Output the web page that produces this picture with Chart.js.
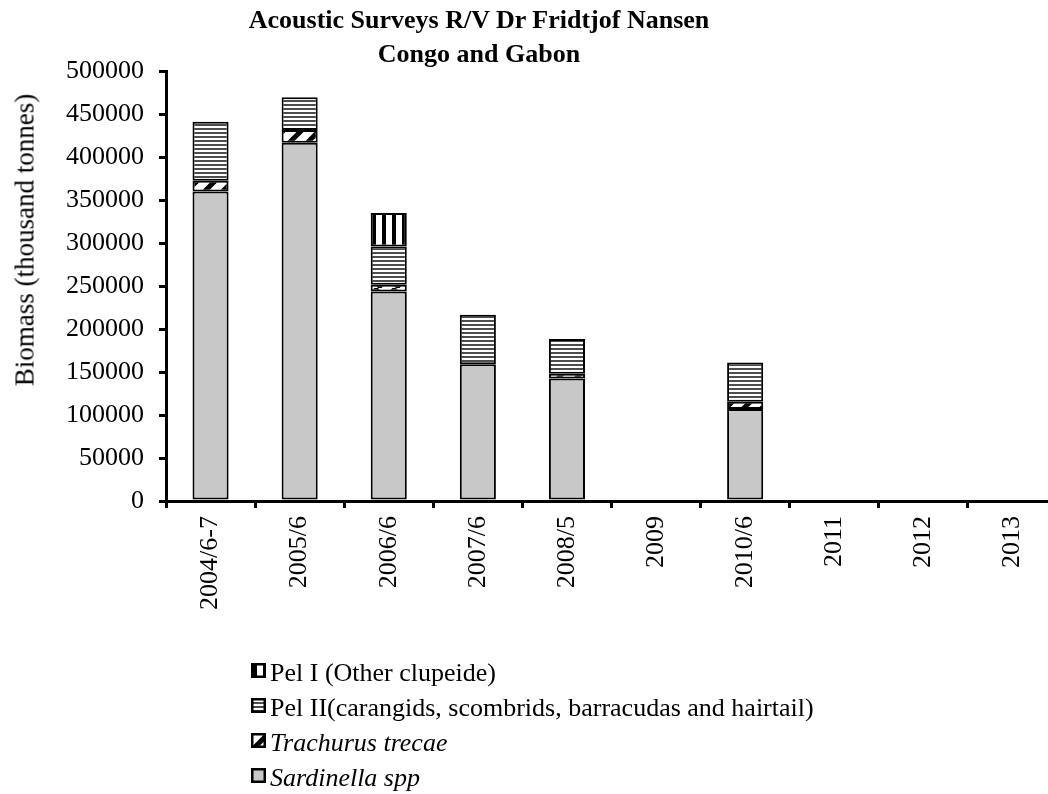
<!DOCTYPE html>
<html>
<head>
<meta charset="utf-8">
<script src="https://cdn.jsdelivr.net/npm/chart.js@4.4.0/dist/chart.umd.min.js"></script>
<style>
html, body { margin: 0; padding: 0; background: #fff; overflow: hidden; }
#wrap { position: relative; width: 1048px; height: 794px; overflow: hidden;
        font-family: 'Liberation Serif', 'Times New Roman', serif; color: #000; }
#chart { position: absolute; left: 0; top: 0; }
#title { position: absolute; left: 0; top: 3px; width: 958px; text-align: center;
         font-weight: bold; font-size: 26px; line-height: 33.5px; }
#ytitle { position: absolute; left: 25px; top: 240px; white-space: nowrap; font-size: 27px;
          transform: translate(-50%, -50%) rotate(-90deg); }
#legend { position: absolute; left: 251px; top: 655px; font-size: 26px; }
#legend .row { position: relative; height: 35px; line-height: 35px; white-space: nowrap; }
#legend canvas { position: absolute; left: 0; top: 8px; }
#legend span { position: absolute; left: 19px; top: 0; }
</style>
</head>
<body>
<div id="wrap">
  <canvas id="chart" width="1057" height="794"></canvas>
  <div id="title">Acoustic Surveys R/V Dr Fridtjof Nansen<br>Congo and Gabon</div>
  <div id="ytitle">Biomass (thousand tonnes)</div>
  <div id="legend"></div>
</div>
<script>
// Valeurs (milliers de tonnes)
const categories = ['2004/6-7', '2005/6', '2006/6', '2007/6', '2008/5', '2009', '2010/6', '2011', '2012', '2013'];
const sardinella = [360000, 416500, 243500, 159000, 142500, null, 107000, null, null, null];
const trachurus  = [12500, 15000, 8000, null, 5500, null, 8500, null, null, null];
const pelII      = [68500, 38000, 44500, 57500, 40500, null, 45500, null, null, null];
const pelI       = [null, null, 38800, null, null, null, null, null, null, null];
const yMax = 500000;
const yStep = 50000;

const FONT = "'Liberation Serif', 'Times New Roman', serif";

// Motifs de remplissage (hachures)
function makePattern(kind) {
    const c = document.createElement('canvas');
    const g = c.getContext('2d');
    if (kind === 'vbars') {
        c.width = 10; c.height = 10;
        g.fillStyle = '#fff'; g.fillRect(0, 0, 10, 10);
        g.fillStyle = '#000'; g.fillRect(2, 0, 4, 10);
    } else if (kind === 'hlines') {
        c.width = 4; c.height = 4;
        g.fillStyle = '#fff'; g.fillRect(0, 0, 4, 4);
        g.fillStyle = '#4d4d4d'; g.fillRect(0, 0, 4, 2);
    } else if (kind === 'diag') {
        c.width = 18; c.height = 18;
        g.fillStyle = '#fff'; g.fillRect(0, 0, 18, 18);
        g.strokeStyle = '#000'; g.lineWidth = 5;
        [-18, 0, 18].forEach(o => {
            g.beginPath(); g.moveTo(o, 18); g.lineTo(o + 18, 0); g.stroke();
        });
    }
    return g.createPattern(c, 'repeat');
}

const series = [
    { label: 'Sardinella spp', data: sardinella, fill: '#c8c8c8', italic: true },
    { label: 'Trachurus trecae', data: trachurus, fill: makePattern('diag'), italic: true },
    { label: 'Pel II(carangids, scombrids, barracudas and hairtail)', data: pelII, fill: makePattern('hlines'), italic: false },
    { label: 'Pel I (Other clupeide)', data: pelI, fill: makePattern('vbars'), italic: false }
];

const datasets = series.map(s => ({
    label: s.label,
    data: s.data,
    backgroundColor: s.fill,
    borderColor: '#000',
    borderWidth: 2,
    borderSkipped: false,
    barPercentage: 0.405,
    categoryPercentage: 1
}));

const chart = new Chart(document.getElementById('chart'), {
    type: 'bar',
    data: { labels: categories, datasets: datasets },
    options: {
        responsive: false,
        animation: false,
        layout: { padding: { top: 71, left: 0, right: 0, bottom: 0 } },
        plugins: { legend: { display: false }, title: { display: false }, tooltip: { enabled: false } },
        scales: {
            x: {
                stacked: true,
                offset: true,
                grid: { display: true, drawOnChartArea: false, drawTicks: true, tickLength: 7,
                        color: '#000', lineWidth: 3, offset: true },
                border: { display: true, color: '#000', width: 3 },
                ticks: { autoSkip: false, minRotation: 90, maxRotation: 90, padding: 8,
                         color: '#000', font: { family: FONT, size: 26 } },
                afterFit(s) { s.height = 293; s.paddingLeft = 0; s.paddingRight = 0; }
            },
            y: {
                stacked: true,
                min: 0,
                max: yMax,
                grid: { display: true, drawOnChartArea: false, drawTicks: true, tickLength: 7,
                        color: '#000', lineWidth: 3 },
                border: { display: true, color: '#000', width: 3 },
                ticks: { stepSize: yStep, padding: 15, color: '#000',
                         font: { family: FONT, size: 26 }, callback: v => String(v) },
                afterFit(s) { s.width = 166; s.paddingTop = 0; s.paddingBottom = 0; }
            }
        }
    }
});

// Légende HTML (ordre inverse de l'empilement)
const legend = document.getElementById('legend');
chart.data.datasets.slice().reverse().forEach((ds, i) => {
    const s = series[series.length - 1 - i];
    const row = document.createElement('div');
    row.className = 'row';
    const sw = document.createElement('canvas');
    sw.width = 15; sw.height = 15;
    const g = sw.getContext('2d');
    g.fillStyle = ds.backgroundColor;
    g.fillRect(0, 0, 15, 15);
    g.strokeStyle = '#000'; g.lineWidth = 2.5;
    g.strokeRect(1.25, 1.25, 12.5, 12.5);
    const txt = document.createElement('span');
    txt.textContent = ds.label;
    if (s.italic) txt.style.fontStyle = 'italic';
    row.appendChild(sw);
    row.appendChild(txt);
    legend.appendChild(row);
});
</script>
</body>
</html>
